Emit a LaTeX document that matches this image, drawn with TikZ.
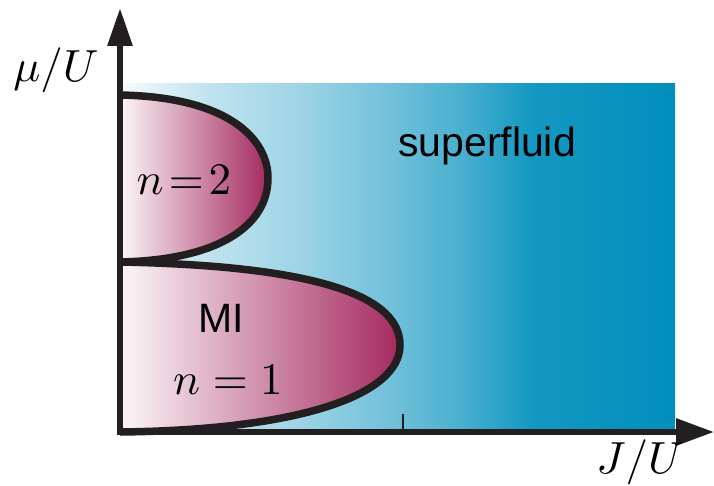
\documentclass[tikz,border=0pt]{standalone}
\usepackage{amsmath}
\usepackage{fontspec}
\newfontfamily\sflabel{Liberation Sans}
\usetikzlibrary{arrows.meta}
\definecolor{sfblue}{RGB}{0,143,188}
\definecolor{mottred}{RGB}{165,42,95}
\definecolor{inkblack}{RGB}{35,31,32}
\pgfdeclarehorizontalshading{sfshade}{100bp}{color(0bp)=(sfblue!3); color(25bp)=(sfblue!3);
  color(33bp)=(sfblue!25); color(41bp)=(sfblue!38); color(50bp)=(sfblue!57);
  color(56bp)=(sfblue!72); color(62bp)=(sfblue!92); color(75bp)=(sfblue); color(100bp)=(sfblue)}
\tikzset{
axisline/.style={line width=6pt,inkblack},
lobeline/.style={line width=7.5pt,inkblack},
lobefill/.style={left color=mottred!4,right color=mottred},
sffill/.style={shading=sfshade},
tick/.style={line width=2pt,inkblack},
mathlabel/.style={font=\normalsize,scale=4.5,inner sep=0pt},
sflab/.style={font=\fontsize{41}{48}\selectfont\sflabel,inner sep=0pt}
}

\begin{document}
\begin{tikzpicture}[x=1pt,y=-1pt]
\useasboundingbox (0,0) rectangle (714,486);
% superfluid region
\shade[sffill] (120,84) rectangle (675,432);
% Mott lobes
\shade[lobefill] (120,95) .. controls (230,97) and (268,140) .. (268,178)
  .. controls (268,225) and (220,260) .. (120,262) -- cycle;
\shade[lobefill] (120,262) .. controls (330,266) and (400,300) .. (400,345)
  .. controls (400,395) and (300,430) .. (120,432) -- cycle;
\draw[lobeline] (120,95) .. controls (230,97) and (268,140) .. (268,178)
  .. controls (268,225) and (220,260) .. (120,262);
\draw[lobeline] (120,262) .. controls (330,266) and (400,300) .. (400,345)
  .. controls (400,395) and (300,430) .. (120,432);
% axes
\coordinate (origin) at (120,432);
\coordinate (ytip) at (120,8);
\coordinate (xtip) at (714,432);
\coordinate (tickbot) at (403,432);
\coordinate (ticktop) at (403,414);
\draw[axisline,-{Triangle[length=38pt,width=24pt]}] ([yshift=-3pt]origin) -- (ytip);
\draw[axisline,-{Triangle[length=38pt,width=26pt]}] ([xshift=-3pt]origin) -- (xtip);
\draw[tick] (tickbot) -- (ticktop);
% labels
\node[mathlabel] (ylab) at (56,70) {$\mu/U$};
\node[mathlabel] (xlab) at (640,462) {$J/U$};
\node[mathlabel] (ntwo) at (184,180) {$n\!=\!2$};
\node[mathlabel] (none) at (228,380) {$n=1$};
\node[sflab] (sf) at (487,146) {superfluid};
\node[sflab] (mi) at (221,318) {MI};
\end{tikzpicture}
\end{document}
